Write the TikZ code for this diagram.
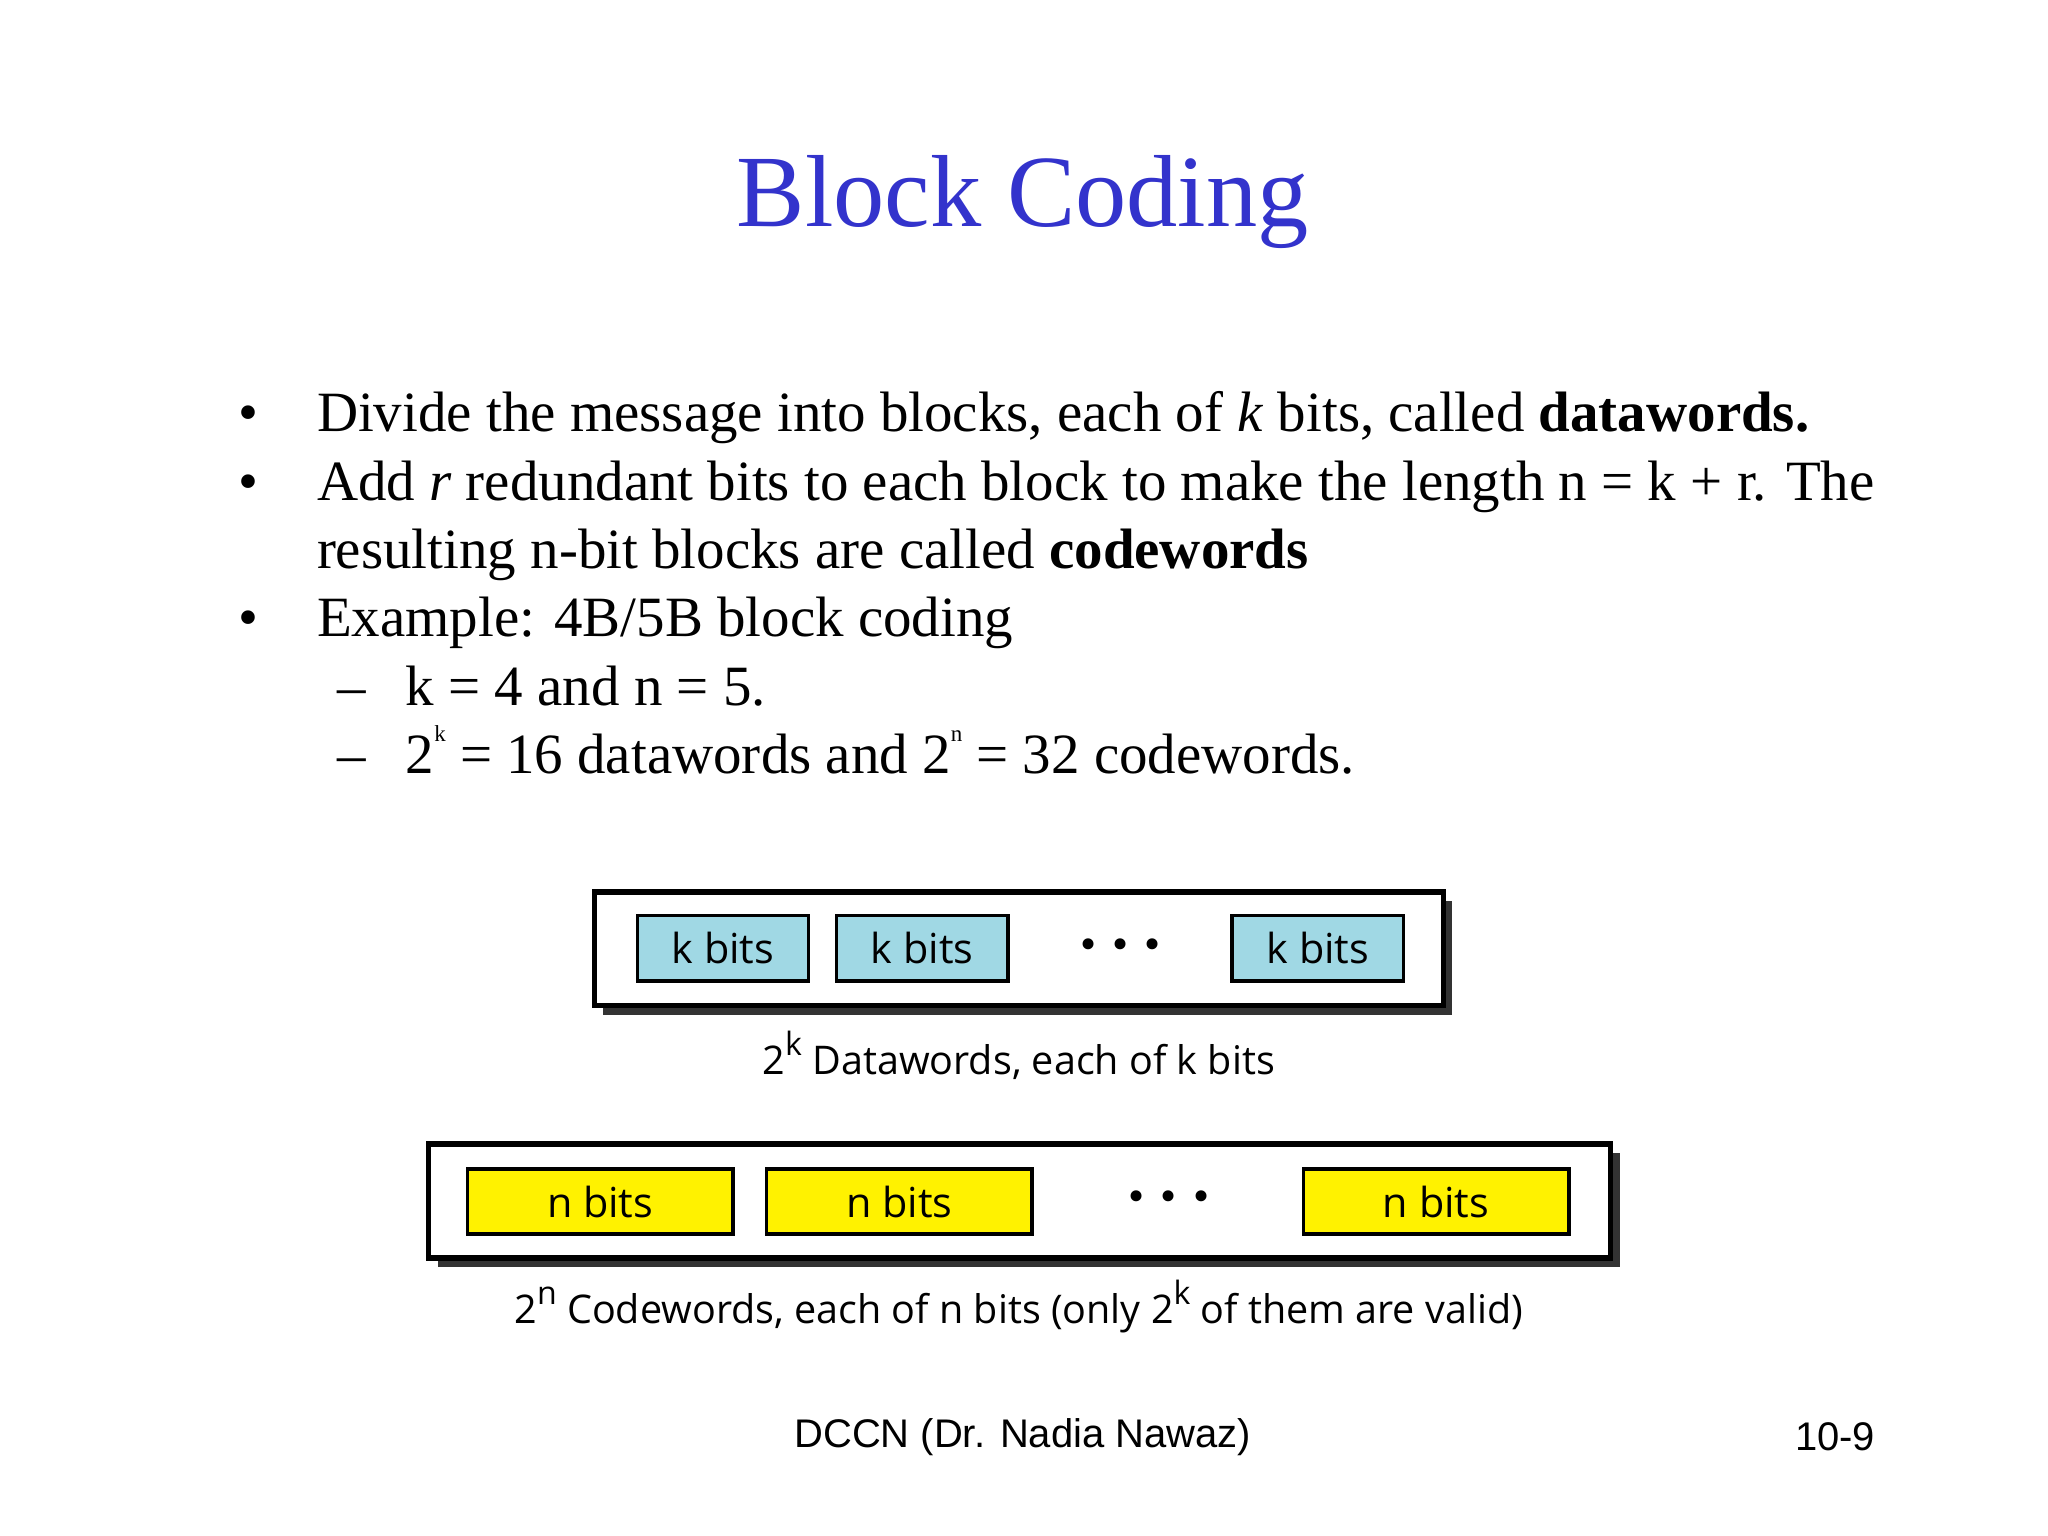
\documentclass[tikz,border=0pt]{standalone}
\usepackage{fontspec}
\setmainfont{Liberation Serif}
\newfontfamily\diagfont{Open Sans}
\newfontfamily\footfont{Liberation Sans}
\definecolor{titleblue}{RGB}{51,51,204}
\definecolor{kblue}{RGB}{160,216,228}
\definecolor{nyellow}{RGB}{255,242,0}
\tikzset{
  body/.style={anchor=base west,inner sep=0pt,font=\fontsize{12.4}{15}\selectfont},
  frame/.style={draw,line width=1.2pt,fill=white},
  shadow/.style={fill=black!80},
  kbox/.style={draw,line width=0.8pt,fill=kblue,font=\diagfont\fontsize{9}{11}\selectfont},
  nbox/.style={draw,line width=0.8pt,fill=nyellow,font=\diagfont\fontsize{9}{11}\selectfont},
  lab/.style={font=\diagfont\fontsize{8.6}{10}\selectfont,inner sep=0pt},
  dots/.style={font=\fontsize{10}{10}\selectfont,inner sep=0pt},
}
\begin{document}
\begin{tikzpicture}[x=0.01cm,y=-0.01cm]
\useasboundingbox (0,0) rectangle (1568,1176);
\node[font=\fontsize{22.3}{26}\selectfont,text=titleblue] (title) at (783,155) {Block Coding};
\node[body] (b1) at (182,330) {\textbullet};
\node[body] (t1) at (242,330) {Divide the message into blocks, each of \textit{k} bits, called \textbf{datawords.}};
\node[body] (b2) at (182,383) {\textbullet};
\node[body] (t2) at (242,383) {Add \textit{r} redundant bits to each block to make the length n = k + r. The};
\node[body] (t2b) at (242,435) {resulting n-bit blocks are called \textbf{codewords}};
\node[body] (b3) at (182,487) {\textbullet};
\node[body] (t3) at (242,487) {Example: 4B/5B block coding};
\node[body] (d1) at (258,540) {--};
\node[body] (s1) at (310,540) {k = 4 and n = 5.};
\node[body] (d2) at (258,592) {--};
\node[body] (s2) at (310,592) {2\raisebox{1.2ex}{\fontsize{5}{6}\selectfont k} = 16 datawords and 2\raisebox{1.2ex}{\fontsize{5}{6}\selectfont n} = 32 codewords.};
% top diagram
\fill[shadow] (462,690) rectangle (1112,777);
\draw[frame] (455,683) rectangle (1105,770);
\node[kbox,minimum width=1.31cm,minimum height=0.5cm] (k1) at (553.5,726) {k bits};
\node[kbox,minimum width=1.31cm,minimum height=0.5cm] (k2) at (706,726) {k bits};
\node[kbox,minimum width=1.31cm,minimum height=0.5cm] (k3) at (1009,726) {k bits};
\node[dots] (kd) at (858,727) {\textbullet\hspace{0.35em}\textbullet\hspace{0.35em}\textbullet};
\node[lab] (klab) at (780,808) {2\raisebox{0.9ex}{\fontsize{7}{8}\selectfont k} Datawords, each of k bits};
% bottom diagram
\fill[shadow] (335,883) rectangle (1240,970);
\draw[frame] (328,876) rectangle (1233,963);
\node[nbox,minimum width=2.03cm,minimum height=0.5cm] (n1) at (459.5,920) {n bits};
\node[nbox,minimum width=2.03cm,minimum height=0.5cm] (n2) at (688.5,920) {n bits};
\node[nbox,minimum width=2.03cm,minimum height=0.5cm] (n3) at (1099.5,920) {n bits};
\node[dots] (nd) at (895,920) {\textbullet\hspace{0.35em}\textbullet\hspace{0.35em}\textbullet};
\node[lab] (nlab) at (780,1000) {2\raisebox{0.9ex}{\fontsize{7}{8}\selectfont n} Codewords, each of n bits (only 2\raisebox{0.9ex}{\fontsize{7}{8}\selectfont k} of them are valid)};
% footer
\node[font=\footfont\fontsize{8.7}{10}\selectfont] (foot) at (783,1100) {DCCN (Dr. Nadia Nawaz)};
\node[font=\footfont\fontsize{8.7}{10}\selectfont] (pg) at (1405,1100) {10-9};
\end{tikzpicture}
\end{document}
